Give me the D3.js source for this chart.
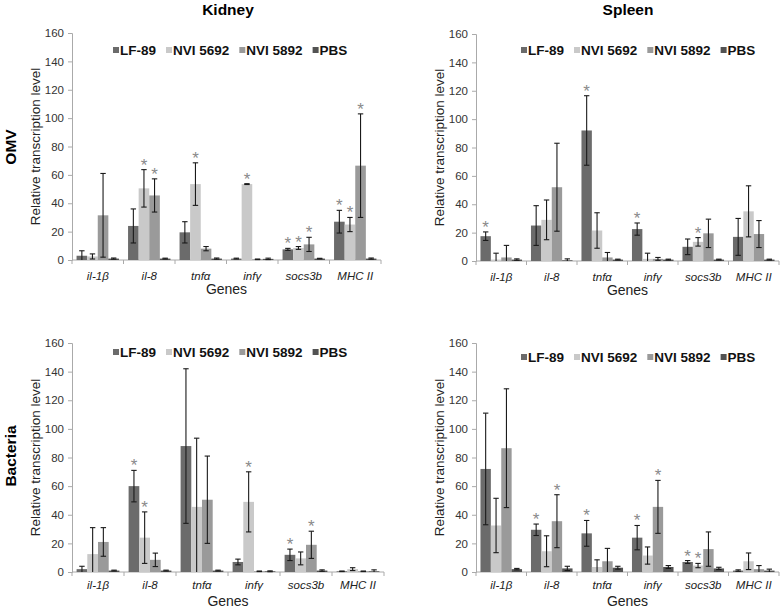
<!DOCTYPE html>
<html><head><meta charset="utf-8">
<script src="https://cdn.jsdelivr.net/npm/d3@7"></script>
<style>body{margin:0;background:#fff;} svg{display:block;font-family:"Liberation Sans",Arial,sans-serif;}</style>
</head><body>
<svg id="c" width="782" height="609"></svg>
<script>
const genes = ["il-1β","il-8","tnfα","infγ","socs3b","MHC II"];
const seriesNames = ["LF-89","NVI 5692","NVI 5892","PBS"];
const seriesColors = ["#6b6b6b","#c9c9c9","#9a9a9a","#525252"];
const yTicks = [0,20,40,60,80,100,120,140,160];

// Kidney OMV
const kOmvVal = [[3,24,19.5,1,7.5,27],[2.5,50.5,53.5,53.5,8.5,25],[31.5,45.5,8,0.5,11,66.5],[1,1,1,0.8,1,1]];
const kOmvErr = [[3.5,12,7.5,0.3,0.7,8],[1.8,13.2,15,0.3,1,5],[29.5,11.7,1.5,0.2,5,36.5],[0.4,0.3,0.4,0.5,0.2,0.4]];
const kOmvSig = [[0,0,0,0,1,1],[0,1,1,1,1,1],[0,1,0,0,1,1],[0,0,0,0,0,0]];
// Spleen OMV
const sOmvVal = [[17.5,25,92,22.5,10,17],[1,29,21.5,1.5,13.5,35],[2.5,52,2.5,1.5,19.5,19],[1,0.5,1,1,1,1]];
const sOmvErr = [[3,14,24.5,4.3,5.5,13],[4.5,14,12.5,4,3,18],[8.5,31,3.5,1,10,9.5],[0.5,1,0.3,0.3,0.3,0.3]];
const sOmvSig = [[1,0,1,1,0,0],[0,0,0,0,1,0],[0,0,0,0,0,0],[0,0,0,0,0,0]];
// Kidney Bacteria
const kBacVal = [[2,60,88,7,12,0.5],[12.5,24,45.5,49,9.5,2],[21,8.5,50.5,0.5,19,0.5],[1,1,1,0.5,1,0.5]];
const kBacErr = [[2,11,54,2,4,0.2],[18.5,18,48,21,4.5,1],[10,4.7,30.5,0.2,9.5,0.2],[0.3,0.3,0.3,0.3,0.5,1]];
const kBacSig = [[0,1,0,0,1,0],[0,1,0,1,0,0],[0,0,0,0,1,0],[0,0,0,0,0,0]];
// Spleen Bacteria
const sBacVal = [[72,29.5,27,24,7,1],[32.5,14.5,3.5,11.5,4.5,7.5],[86.5,35.5,7.5,45.5,16,2],[2,2.5,3,3.5,2.5,1]];
const sBacErr = [[39,4,9,8.5,1,0.5],[19,10.8,5,6,1.5,5.8],[41.5,18.5,9,18.5,12,2.5],[0.5,1.5,1,1,0.8,1]];
const sBacSig = [[0,1,1,1,1,0],[0,0,0,0,1,0],[0,1,0,1,0,0],[0,0,0,0,0,0]];

const panels = [
  {val:kOmvVal, err:kOmvErr, sig:kOmvSig, x0:72, x1:381, y0:260, y1:33, legY:50, legX:113, labOff:20, genOff:34},
  {val:sOmvVal, err:sOmvErr, sig:sOmvSig, x0:476, x1:779, y0:261, y1:34, legY:50, legX:521, labOff:20, genOff:34},
  {val:kBacVal, err:kBacErr, sig:kBacSig, x0:72, x1:384, y0:572, y1:343, legY:352, legX:113, labOff:17, genOff:34},
  {val:sBacVal, err:sBacErr, sig:sBacSig, x0:476, x1:779, y0:572, y1:343, legY:357, legX:521, labOff:17, genOff:34}
];

const svg = d3.select("#c");

panels.forEach(p => {
  const g = svg.append("g");
  const x = d3.scaleBand().domain(genes).range([p.x0, p.x1]).paddingInner(0).paddingOuter(0);
  const xs = d3.scaleBand().domain(seriesNames).range([0, x.bandwidth()]).paddingOuter(0.43).paddingInner(0);
  const y = d3.scaleLinear().domain([0,160]).range([p.y0, p.y1]);

  const ya = g.append("g").attr("transform",`translate(${p.x0},0)`)
    .call(d3.axisLeft(y).tickValues(yTicks).tickSize(4).tickPadding(4));
  ya.select(".domain").attr("stroke","#aaa");
  ya.selectAll(".tick line").attr("stroke","#aaa");
  ya.selectAll("text").attr("font-size",11.5).attr("fill","#333").attr("font-family","Liberation Sans, Arial, sans-serif");

  g.append("line").attr("x1",p.x0).attr("x2",p.x1).attr("y1",p.y0).attr("y2",p.y0).attr("stroke","#aaa");
  const bounds = genes.map(d => x(d)).concat([p.x1]);
  g.selectAll(".xt").data(bounds).enter().append("line")
    .attr("x1",d=>d).attr("x2",d=>d).attr("y1",p.y0).attr("y2",p.y0+4).attr("stroke","#aaa");
  g.selectAll(".xl").data(genes).enter().append("text")
    .attr("x",d=>x(d)+x.bandwidth()/2).attr("y",p.y0+p.labOff)
    .attr("text-anchor","middle").attr("font-size",11.5).attr("font-style","italic").attr("fill","#222")
    .text(d=>d);

  seriesNames.forEach((s, si) => {
    genes.forEach((gn, gi) => {
      const v = p.val[si][gi];
      const bx = x(gn) + xs(s), bw = xs.bandwidth();
      g.append("rect").attr("x",bx).attr("width",bw).attr("y",y(v)).attr("height",y(0)-y(v))
        .attr("fill",seriesColors[si]);
    });
  });
  seriesNames.forEach((s, si) => {
    genes.forEach((gn, gi) => {
      const v = p.val[si][gi], e = p.err[si][gi];
      const cx = x(gn) + xs(s) + xs.bandwidth()/2;
      const hi = v + e, lo = Math.max(0, v - e);
      const eg = g.append("g").attr("stroke","#1a1a1a").attr("stroke-width",1.1);
      eg.append("line").attr("x1",cx).attr("x2",cx).attr("y1",y(hi)).attr("y2",y(lo));
      eg.append("line").attr("x1",cx-2.7).attr("x2",cx+2.7).attr("y1",y(hi)).attr("y2",y(hi));
      if (v - e > 0) eg.append("line").attr("x1",cx-2.7).attr("x2",cx+2.7).attr("y1",y(lo)).attr("y2",y(lo));
      if (p.sig[si][gi]) {
        g.append("text").attr("x",cx).attr("y",y(hi)+1).attr("text-anchor","middle")
          .attr("font-size",17).attr("fill","#8a8a8a").text("*");
      }
    });
  });

  let lx = p.legX;
  seriesNames.forEach((s, si) => {
    g.append("rect").attr("x",lx).attr("y",p.legY-3).attr("width",6).attr("height",6).attr("fill",seriesColors[si]);
    const t = g.append("text").attr("x",lx+7).attr("y",p.legY+5).attr("font-size",13.5).attr("font-weight","bold")
      .attr("fill","#111").text(s);
    lx += 7 + t.node().getComputedTextLength() + 10;
  });

  g.append("text").attr("transform",`translate(${p.x0-32},${(p.y0+p.y1)/2}) rotate(-90)`)
    .attr("text-anchor","middle").attr("font-size",13.5).attr("fill","#222").text("Relative transcription level");
  g.append("text").attr("x",(p.x0+p.x1)/2).attr("y",p.y0 + p.genOff)
    .attr("text-anchor","middle").attr("font-size",14).attr("fill","#222").text("Genes");
});

svg.append("text").attr("x",228).attr("y",15).attr("text-anchor","middle").attr("font-size",15.5).attr("font-weight","bold").text("Kidney");
svg.append("text").attr("x",628).attr("y",15).attr("text-anchor","middle").attr("font-size",15.5).attr("font-weight","bold").text("Spleen");
svg.append("text").attr("transform","translate(16,147) rotate(-90)").attr("text-anchor","middle").attr("font-size",15.5).attr("font-weight","bold").text("OMV");
svg.append("text").attr("transform","translate(16,456) rotate(-90)").attr("text-anchor","middle").attr("font-size",15.5).attr("font-weight","bold").text("Bacteria");
</script>
</body></html>
